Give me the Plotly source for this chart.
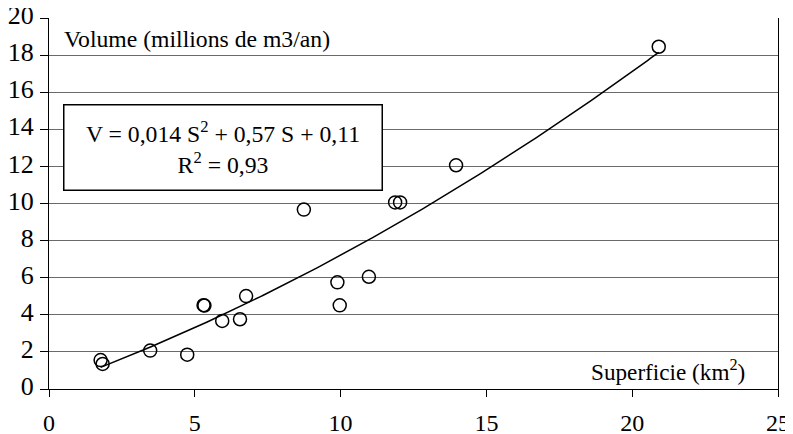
import numpy as np
import plotly.graph_objects as go

# Data
superficie = [1.77, 1.84, 3.47, 4.74, 5.30, 5.33, 5.94, 6.55, 6.76, 8.74,
              9.89, 9.97, 10.97, 11.87, 12.04, 13.96, 20.91]
volume = [1.56, 1.35, 2.07, 1.85, 4.52, 4.50, 3.67, 3.76, 5.01, 9.67,
          5.75, 4.51, 6.05, 10.06, 10.06, 12.06, 18.45]

# Trendline coefficients (as printed on the chart)
coef_a, coef_b, coef_c = 0.014, 0.57, 0.11

x_ticks = [0, 5, 10, 15, 20, 25]
y_ticks = [0, 2, 4, 6, 8, 10, 12, 14, 16, 18, 20]

FONT = "Liberation Serif"

s_fit = np.linspace(min(superficie), max(superficie), 200)
v_fit = coef_a * s_fit**2 + coef_b * s_fit + coef_c

fig = go.Figure()
fig.add_trace(go.Scatter(
    x=s_fit, y=v_fit, mode="lines",
    line=dict(color="black", width=1.5), hoverinfo="skip", showlegend=False))
fig.add_trace(go.Scatter(
    x=superficie, y=volume, mode="markers",
    marker=dict(symbol="circle-open", size=13, color="black",
                line=dict(width=1.5, color="black")),
    showlegend=False))

# page body adds an 8px offset, so the figure is 785x426
fig.update_layout(
    width=785, height=426,
    margin=dict(l=41, r=15, t=10, b=45),
    paper_bgcolor="white", plot_bgcolor="white",
    font=dict(family=FONT, color="black"),
    xaxis=dict(range=[0, 25], tickvals=x_ticks, showgrid=False, zeroline=False,
               automargin=False, ticklabeloverflow="allow",
               showline=True, linecolor="black", linewidth=1.2,
               ticks="outside", ticklen=7, tickcolor="black", tickwidth=1,
               ticklabelstandoff=5,
               tickfont=dict(family=FONT, size=24, color="black")),
    yaxis=dict(range=[0, 20], tickvals=y_ticks, showgrid=True, automargin=False,
               ticklabeloverflow="allow",
               gridcolor="#6a6a6a", gridwidth=1, zeroline=False,
               showline=True, linecolor="black", linewidth=1.2, mirror=True,
               ticks="outside", ticklen=8, tickcolor="black", tickwidth=1,
               ticklabelstandoff=1, ticklabelshift=-3,
               tickfont=dict(family=FONT, size=26, color="black")),
)

fig.add_annotation(
    xref="paper", yref="paper", x=0.0175, y=0.943, xanchor="left", yanchor="middle",
    text="Volume (millions de m3/an)", showarrow=False,
    font=dict(family=FONT, size=23.7, color="black"))

fig.add_annotation(
    xref="paper", yref="paper", x=0.9575, y=0.05, xanchor="right", yanchor="middle",
    text="Superficie (km<sup>2</sup>)", showarrow=False,
    font=dict(family=FONT, size=23.2, color="black"))

fig.add_annotation(
    xref="paper", yref="paper", x=0.239, y=0.652, xanchor="center", yanchor="middle",
    text="V = 0,014 S<sup>2</sup> + 0,57 S + 0,11<br>R<sup>2</sup> = 0,93",
    showarrow=False, align="center",
    width=311, height=78, borderpad=3,
    bordercolor="black", borderwidth=1.5, bgcolor="white",
    font=dict(family=FONT, size=23.7, color="black"))

fig.write_html("out.html")
